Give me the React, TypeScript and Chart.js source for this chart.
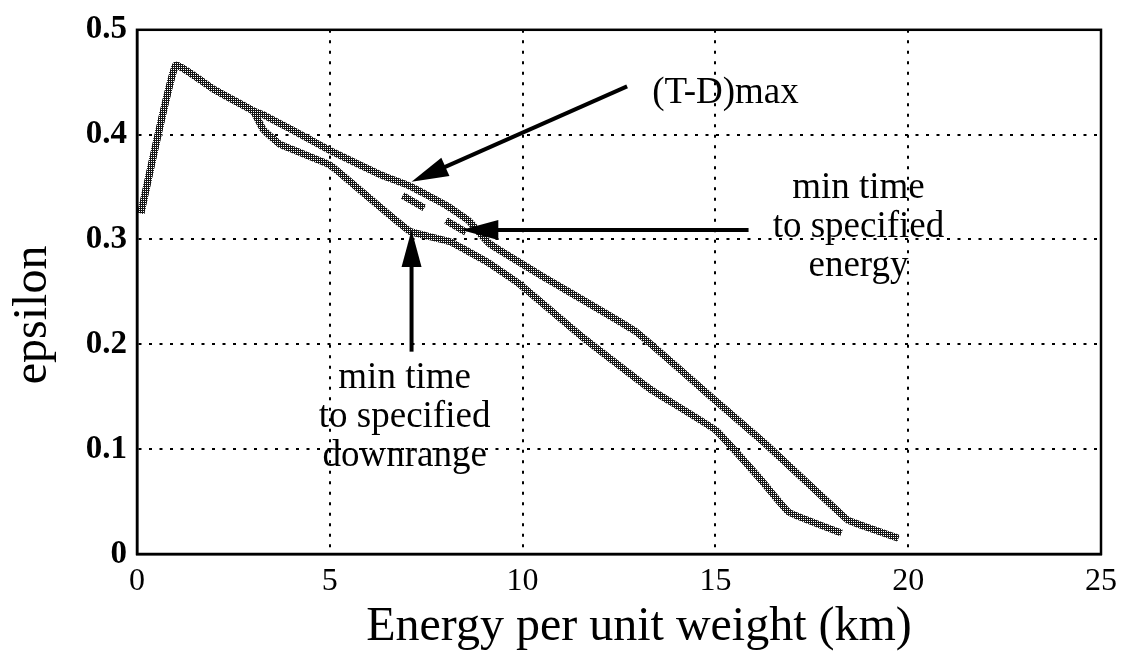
import React, { useEffect, useRef } from "react";
import { Chart, registerables } from "chart.js";

Chart.register(...registerables);

// ---- data ----
const X_MIN = 0;
const X_MAX = 25;
const X_STEP = 5;
const Y_MIN = 0;
const Y_MAX = 0.5;
const Y_STEP = 0.1;

const X_TITLE = "Energy per unit weight (km)";
const Y_TITLE = "epsilon";

// upper curve: min time to specified energy / (T-D)max
const upperX = [0.1, 1.0, 2.0, 3.0, 3.27, 4.0, 5.0, 6.3, 7.07, 8.0, 8.6, 9.14, 10.6, 12.94, 15.01, 16.3, 18.2, 18.45, 19.75];
const upperY = [0.325, 0.466, 0.443, 0.423, 0.419, 0.405, 0.385, 0.362, 0.351, 0.333, 0.318, 0.296, 0.263, 0.212, 0.146, 0.105, 0.04, 0.032, 0.015];

// lower curve: min time to specified downrange
const lowerX = [0.1, 1.0, 2.0, 3.0, 3.27, 3.7, 5.0, 5.85, 7.07, 8.1, 9.06, 9.9, 11.55, 13.28, 15.01, 16.2, 16.9, 18.27];
const lowerY = [0.325, 0.466, 0.443, 0.423, 0.405, 0.391, 0.371, 0.345, 0.308, 0.298, 0.279, 0.258, 0.207, 0.158, 0.118, 0.07, 0.04, 0.02];

// dashed middle branch
const midX = [6.89, 8.53];
const midY = [0.342, 0.307];

// annotation arrows (data coordinates: from -> tip)
const arrowFromX = [12.71, 15.86, 7.12];
const arrowFromY = [0.446, 0.309, 0.193];
const arrowToX = [7.12, 8.41, 7.12];
const arrowToY = [0.355, 0.309, 0.309];

// annotation labels
const labelLines = [["(T-D)max"], ["min time", "to specified", "energy"], ["min time", "to specified", "downrange"]];
const labelX = [13.36, 18.71, 6.94];
const labelY = [0.43, 0.34, 0.158];
const labelAlign: CanvasTextAlign[] = ["left", "center", "center"];

const FONT = '"Liberation Serif", "Times New Roman", serif';

function toPts(xs: number[], ys: number[]) {
  return xs.map((x, i) => ({ x, y: ys[i] }));
}

export default function App() {
  const ref = useRef<HTMLCanvasElement | null>(null);

  useEffect(() => {
    const canvas = ref.current;
    if (!canvas) return;
    const ctx = canvas.getContext("2d")!;

    const pc = document.createElement("canvas");
    pc.width = 4;
    pc.height = 4;
    const pg = pc.getContext("2d")!;
    pg.fillStyle = "#151515";
    pg.fillRect(0, 0, 4, 4);
    pg.fillStyle = "#ffffff";
    pg.fillRect(1, 1, 1, 1);
    pg.fillRect(3, 3, 1, 1);
    pg.fillRect(1, 3, 1, 1);
    pg.fillRect(3, 1, 1, 1);
    const pattern = ctx.createPattern(pc, "repeat")!;

    const annot = {
      id: "annot",
      afterDatasetsDraw(chart: any) {
        const { ctx: c, chartArea: a, scales } = chart;
        const xs = scales.x;
        const ys = scales.y;
        c.save();
        // box
        c.strokeStyle = "#000";
        c.lineWidth = 2.5;
        c.setLineDash([]);
        c.strokeRect(a.left, a.top, a.right - a.left, a.bottom - a.top);

        // arrows
        for (let i = 0; i < arrowFromX.length; i++) {
          const x1 = xs.getPixelForValue(arrowFromX[i]);
          const y1 = ys.getPixelForValue(arrowFromY[i]);
          const x2 = xs.getPixelForValue(arrowToX[i]);
          const y2 = ys.getPixelForValue(arrowToY[i]);
          const ang = Math.atan2(y2 - y1, x2 - x1);
          const hl = 37;
          const hw = 10;
          const bx = x2 - hl * Math.cos(ang);
          const by = y2 - hl * Math.sin(ang);
          c.strokeStyle = "#000";
          c.lineWidth = 4;
          c.beginPath();
          c.moveTo(x1, y1);
          c.lineTo(bx + 2 * Math.cos(ang), by + 2 * Math.sin(ang));
          c.stroke();
          c.fillStyle = "#000";
          c.beginPath();
          c.moveTo(x2, y2);
          c.lineTo(bx + hw * Math.sin(ang), by - hw * Math.cos(ang));
          c.lineTo(bx - hw * Math.sin(ang), by + hw * Math.cos(ang));
          c.closePath();
          c.fill();
        }

        // labels
        c.fillStyle = "#000";
        c.textBaseline = "alphabetic";
        for (let i = 0; i < labelLines.length; i++) {
          c.font = `37px ${FONT}`;
          c.textAlign = labelAlign[i];
          const px = xs.getPixelForValue(labelX[i]);
          const py = ys.getPixelForValue(labelY[i]);
          labelLines[i].forEach((t, k) => c.fillText(t, px, py + k * 39));
        }

        // axis titles
        c.font = `48px ${FONT}`;
        c.textAlign = "center";
        c.fillText(X_TITLE, (a.left + a.right) / 2 + 20, 640);
        c.save();
        c.translate(46, (a.top + a.bottom) / 2 + 23);
        c.rotate(-Math.PI / 2);
        c.fillText(Y_TITLE, 0, 0);
        c.restore();
        c.restore();
      },
    };

    const lineStyle = {
      borderColor: pattern,
      borderWidth: 7,
      pointRadius: 0,
      tension: 0.1,
      fill: false,
    };

    const chart = new Chart(ctx, {
      type: "line",
      data: {
        datasets: [
          { label: "min time to specified energy", data: toPts(upperX, upperY), ...lineStyle },
          { label: "min time to specified downrange", data: toPts(lowerX, lowerY), ...lineStyle },
          { label: "(T-D)max", data: toPts(midX, midY), ...lineStyle, borderDash: [25, 25], tension: 0 },
        ],
      },
      options: {
        responsive: false,
        animation: false,
        events: [],
        layout: { padding: { top: 26, right: 22, left: 0, bottom: 0 } },
        plugins: { legend: { display: false }, tooltip: { enabled: false }, title: { display: false } },
        scales: {
          x: {
            type: "linear",
            min: X_MIN,
            max: X_MAX,
            afterFit: (s: any) => {
              s.height = 99;
            },
            ticks: {
              stepSize: X_STEP,
              color: "#000",
              padding: 8,
              font: { family: FONT, size: 32 },
            },
            grid: { color: "#000", lineWidth: 2, drawTicks: false },
            border: { display: true, color: "#000", width: 2.5, dash: [3, 7.5] },
          },
          y: {
            type: "linear",
            min: Y_MIN,
            max: Y_MAX,
            afterFit: (s: any) => {
              s.width = 137;
            },
            ticks: {
              stepSize: Y_STEP,
              color: "#000",
              padding: 10,
              font: { family: FONT, size: 33, weight: "bold" },
              callback: (v: any) => (Number(v) === 0 ? "0" : Number(v).toFixed(1)),
            },
            grid: { color: "#000", lineWidth: 2, drawTicks: false },
            border: { display: true, color: "#000", width: 2.5, dash: [3, 7.5] },
          },
        },
      },
      plugins: [annot],
    });

    return () => chart.destroy();
  }, []);

  return (
    <div style={{ position: "fixed", left: 0, top: 0, width: 1125, height: 653, background: "#fff" }}>
      <canvas ref={ref} width={1125} height={653} style={{ display: "block", width: 1125, height: 653 }} />
    </div>
  );
}
